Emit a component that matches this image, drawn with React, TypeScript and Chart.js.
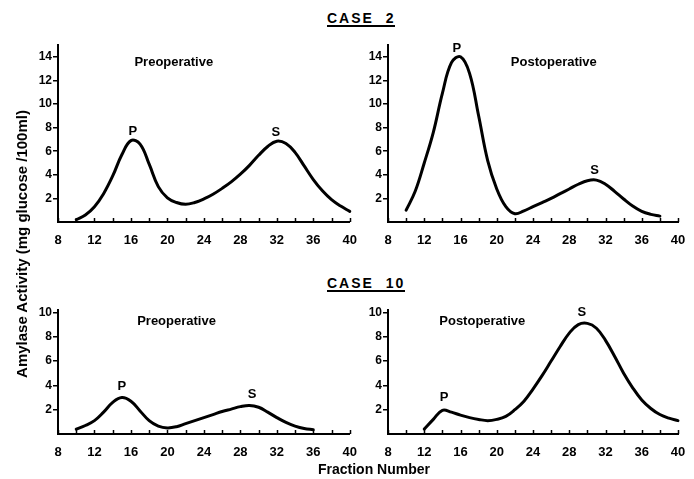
import React, { useEffect, useRef } from "react";
import { Chart, registerables } from "chart.js";

Chart.register(...registerables);

// ---- Axis ticks ----
const X_TICK_VALUES = [8, 10, 12, 14, 16, 18, 20, 22, 24, 26, 28, 30, 32, 34, 36, 38, 40];
const X_TICK_LABELS = [8, 12, 16, 20, 24, 28, 32, 36, 40];
const Y_TICKS_CASE2 = [2, 4, 6, 8, 10, 12, 14];
const Y_TICKS_CASE10 = [2, 4, 6, 8, 10];

// ---- Case 2, preoperative ----
const CASE2_PRE_FRACTIONS = [10, 11, 12, 13, 14, 15, 16, 17, 18, 19, 20, 21, 22, 23, 24, 25, 26, 27, 28, 29, 30, 31, 32, 33, 34, 35, 36, 37, 38, 39, 40];
const CASE2_PRE_ACTIVITY = [0.2, 0.6, 1.3, 2.4, 3.9, 5.7, 6.9, 6.6, 4.9, 3.0, 2.05, 1.65, 1.5, 1.65, 1.95, 2.35, 2.85, 3.4, 4.05, 4.8, 5.65, 6.4, 6.85, 6.65, 5.9, 4.75, 3.6, 2.65, 1.9, 1.35, 0.9];

// ---- Case 2, postoperative ----
const CASE2_POST_FRACTIONS = [10, 11, 12, 13, 14, 15, 16, 17, 18, 19, 20, 21, 22, 23, 24, 25, 26, 27, 28, 29, 30, 31, 32, 33, 34, 35, 36, 37, 38];
const CASE2_POST_ACTIVITY = [1.0, 2.6, 5.0, 7.6, 10.9, 13.5, 14.0, 12.6, 9.0, 5.2, 2.8, 1.3, 0.7, 0.95, 1.3, 1.65, 2.0, 2.4, 2.8, 3.2, 3.5, 3.55, 3.2, 2.6, 1.95, 1.35, 0.9, 0.65, 0.5];

// ---- Case 10, preoperative ----
const CASE10_PRE_FRACTIONS = [10, 11, 12, 13, 14, 15, 16, 17, 18, 19, 20, 21, 22, 23, 24, 25, 26, 27, 28, 29, 30, 31, 32, 33, 34, 35, 36];
const CASE10_PRE_ACTIVITY = [0.4, 0.7, 1.1, 1.8, 2.6, 3.0, 2.7, 1.9, 1.1, 0.65, 0.5, 0.6, 0.85, 1.1, 1.35, 1.6, 1.85, 2.05, 2.25, 2.35, 2.2, 1.8, 1.35, 0.95, 0.65, 0.45, 0.35];

// ---- Case 10, postoperative ----
const CASE10_POST_FRACTIONS = [12, 13, 14, 15, 16, 17, 18, 19, 20, 21, 22, 23, 24, 25, 26, 27, 28, 29, 30, 31, 32, 33, 34, 35, 36, 37, 38, 39, 40];
const CASE10_POST_ACTIVITY = [0.4, 1.2, 1.95, 1.8, 1.55, 1.35, 1.2, 1.1, 1.2, 1.45, 2.0, 2.7, 3.7, 4.8, 6.0, 7.2, 8.3, 9.0, 9.1, 8.7, 7.7, 6.4, 5.0, 3.8, 2.8, 2.1, 1.6, 1.3, 1.1];

const FONT = "'Liberation Sans', Arial, sans-serif";

type Label = { text: string; x: number; y: number };
type PanelProps = {
  left: number;
  top: number;
  width: number;
  height: number;
  padTop: number;
  padRight: number;
  padBottom: number;
  yMax: number;
  yTicks: number[];
  fractions: number[];
  values: number[];
  labels: Label[];
};

const annotationPlugin = {
  id: "panelText",
  afterDraw(chart: any, _args: any, opts: any) {
    const { ctx, scales } = chart;
    const xs = scales.x;
    const ys = scales.y;
    ctx.save();
    // upward tick marks on the x axis
    ctx.strokeStyle = "#000";
    ctx.lineWidth = 1.5;
    const base = ys.getPixelForValue(0);
    xs.ticks.forEach((t: any) => {
      const px = Math.round(xs.getPixelForValue(t.value)) + 0.5;
      ctx.beginPath();
      ctx.moveTo(px, base);
      ctx.lineTo(px, base - 4);
      ctx.stroke();
    });
    // text labels
    ctx.fillStyle = "#000";
    ctx.textAlign = "center";
    ctx.textBaseline = "middle";
    ctx.font = `bold 13px ${FONT}`;
    (opts.labels || []).forEach((l: Label) => {
      ctx.fillText(l.text, xs.getPixelForValue(l.x), ys.getPixelForValue(l.y));
    });
    ctx.restore();
  },
};

function Panel(p: PanelProps) {
  const ref = useRef<HTMLCanvasElement | null>(null);
  useEffect(() => {
    if (!ref.current) return;
    const data = p.fractions.map((f, i) => ({ x: f, y: p.values[i] }));
    const chart = new Chart(ref.current, {
      type: "line",
      data: {
        datasets: [
          {
            data,
            borderColor: "#000",
            borderWidth: 3,
            pointRadius: 0,
            fill: false,
            tension: 0.4,
            borderCapStyle: "round",
            borderJoinStyle: "round",
            clip: false as any,
          },
        ],
      },
      options: {
        animation: false,
        responsive: false,
        maintainAspectRatio: false,
        layout: { padding: { top: p.padTop, right: p.padRight, bottom: p.padBottom, left: 0 } },
        plugins: {
          legend: { display: false },
          tooltip: { enabled: false },
          title: { display: false },
          panelText: { labels: p.labels },
        } as any,
        scales: {
          x: {
            type: "linear",
            min: 8,
            max: 40,
            afterBuildTicks: (s: any) => {
              s.ticks = X_TICK_VALUES.map((v) => ({ value: v }));
            },
            afterFit: (s: any) => {
              s.height = 23;
            },
            grid: { display: false },
            border: { display: true, color: "#000", width: 2 },
            ticks: {
              autoSkip: false,
              maxRotation: 0,
              padding: 3,
              color: "#000",
              font: { family: FONT, size: 13, weight: "bold" },
              callback: (v: any) => (X_TICK_LABELS.includes(Number(v)) ? String(v) : ""),
            },
          },
          y: {
            type: "linear",
            min: 0,
            max: p.yMax,
            afterBuildTicks: (s: any) => {
              s.ticks = p.yTicks.map((v) => ({ value: v }));
            },
            afterFit: (s: any) => {
              s.width = 58;
            },
            grid: {
              display: true,
              drawOnChartArea: false,
              drawTicks: true,
              tickLength: 5,
              color: "#000",
              lineWidth: 1.5,
            },
            border: { display: true, color: "#000", width: 2 },
            ticks: {
              padding: 1,
              color: "#000",
              font: { family: FONT, size: 12, weight: "bold" },
              callback: (v: any) => String(v),
            },
          },
        },
      },
      plugins: [annotationPlugin],
    });
    return () => chart.destroy();
  }, []);
  return (
    <canvas
      ref={ref}
      width={p.width}
      height={p.height}
      style={{ position: "absolute", left: p.left, top: p.top, width: p.width, height: p.height }}
    />
  );
}

const caseTitle: React.CSSProperties = {
  position: "absolute",
  left: 327,
  fontFamily: FONT,
  fontWeight: "bold",
  fontSize: 14,
  lineHeight: "14px",
  letterSpacing: "2px",
  borderBottom: "2px solid #000",
  whiteSpace: "pre",
  color: "#000",
};

export default function App() {
  const top = { top: 0, height: 245, padTop: 45, padBottom: 0, yMax: 15, yTicks: Y_TICKS_CASE2 };
  const bottom = { top: 245, height: 234, padTop: 65, padBottom: 22, yMax: 10.2, yTicks: Y_TICKS_CASE10 };
  return (
    <div style={{ position: "absolute", left: 0, top: 0, width: 694, height: 479, background: "#fff", overflow: "hidden" }}>
      <div style={{ ...caseTitle, top: 11 }}>{"CASE  2"}</div>
      <div style={{ ...caseTitle, top: 276 }}>{"CASE  10"}</div>
      <Panel
        {...top}
        left={0}
        width={360}
        padRight={10}
        fractions={CASE2_PRE_FRACTIONS}
        values={CASE2_PRE_ACTIVITY}
        labels={[
          { text: "Preoperative", x: 20.7, y: 13.5 },
          { text: "P", x: 16.2, y: 7.7 },
          { text: "S", x: 31.9, y: 7.6 },
        ]}
      />
      <Panel
        {...top}
        left={330}
        width={364}
        padRight={16}
        fractions={CASE2_POST_FRACTIONS}
        values={CASE2_POST_ACTIVITY}
        labels={[
          { text: "Postoperative", x: 26.3, y: 13.5 },
          { text: "P", x: 15.6, y: 14.75 },
          { text: "S", x: 30.8, y: 4.4 },
        ]}
      />
      <Panel
        {...bottom}
        left={0}
        width={360}
        padRight={10}
        fractions={CASE10_PRE_FRACTIONS}
        values={CASE10_PRE_ACTIVITY}
        labels={[
          { text: "Preoperative", x: 21.0, y: 9.25 },
          { text: "P", x: 15.0, y: 3.9 },
          { text: "S", x: 29.3, y: 3.25 },
        ]}
      />
      <Panel
        {...bottom}
        left={330}
        width={364}
        padRight={16}
        fractions={CASE10_POST_FRACTIONS}
        values={CASE10_POST_ACTIVITY}
        labels={[
          { text: "Postoperative", x: 18.4, y: 9.25 },
          { text: "P", x: 14.2, y: 3.0 },
          { text: "S", x: 29.4, y: 10.0 },
        ]}
      />
      <div
        style={{
          position: "absolute",
          left: 22 - 160,
          top: 244 - 10,
          width: 320,
          height: 20,
          lineHeight: "20px",
          textAlign: "center",
          transform: "rotate(-90deg)",
          fontFamily: FONT,
          fontWeight: "bold",
          fontSize: 15,
          color: "#000",
          whiteSpace: "nowrap",
        }}
      >
        Amylase Activity (mg glucose /100ml)
      </div>
      <div
        style={{
          position: "absolute",
          left: 274,
          top: 460,
          width: 200,
          lineHeight: "18px",
          textAlign: "center",
          fontFamily: FONT,
          fontWeight: "bold",
          fontSize: 14,
          color: "#000",
        }}
      >
        Fraction Number
      </div>
    </div>
  );
}
